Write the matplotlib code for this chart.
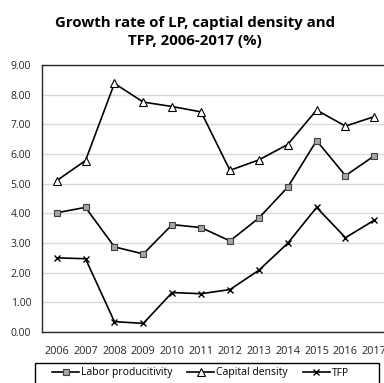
import matplotlib
matplotlib.use("Agg")
import matplotlib.pyplot as plt
from matplotlib.patches import Rectangle

years = ["2006", "2007", "2008", "2009", "2010", "2011", "2012", "2013", "2014", "2015", "2016", "2017"]
labor_productivity = [4.02, 4.20, 2.87, 2.63, 3.62, 3.52, 3.07, 3.84, 4.88, 6.45, 5.27, 5.94]
capital_density = [5.10, 5.78, 8.38, 7.75, 7.60, 7.42, 5.45, 5.80, 6.32, 7.48, 6.94, 7.26]
tfp = [2.50, 2.47, 0.35, 0.29, 1.33, 1.29, 1.43, 2.08, 2.99, 4.20, 3.18, 3.77]
yticks = [0, 1, 2, 3, 4, 5, 6, 7, 8, 9]

plt.rcParams['font.family'] = ['Open Sans', 'DejaVu Sans']

W, H = 384, 383
fig = plt.figure(figsize=(W / 100, H / 100), dpi=100)
left, right, top, bottom = 42.2, 388.8, 65, 332
ax = fig.add_axes([left / W, 1 - bottom / H, (right - left) / W, (bottom - top) / H])

x = list(range(len(years)))
lw = 1.2
ax.plot(x, labor_productivity, color='black', lw=lw, marker='s', ms=5,
        mfc='#a6a6a6', mec='#404040', mew=0.8, label='Labor producitivity', zorder=3)
ax.plot(x, capital_density, color='black', lw=lw, marker='^', ms=5.5,
        mfc='white', mec='black', mew=0.8, label='Capital density', zorder=3)
ax.plot(x, tfp, color='black', lw=lw, marker='x', ms=5,
        mec='black', mew=1.0, label='TFP', zorder=3)

ax.set_xlim(-0.5, len(years) - 0.5)
ax.set_ylim(0, 9)
ax.set_yticks(yticks)
ax.set_yticklabels([f"{v:.2f}" for v in yticks], fontsize=7.5)
ax.set_xticks(x)
ax.set_xticklabels(years, fontsize=7.8)
ax.tick_params(axis='both', length=0, colors='#262626')
ax.tick_params(axis='y', pad=8)
ax.tick_params(axis='x', pad=10)
ax.grid(axis='y', color='#d9d9d9', lw=1)
ax.set_axisbelow(True)
for s in ax.spines.values():
    s.set_color('#262626')
    s.set_linewidth(1.0)

fig.text(195 / W, 1 - 32 / H, "Growth rate of LP, captial density and\nTFP, 2006-2017 (%)",
         ha='center', va='center', fontsize=10.8, fontweight='bold', linespacing=1.35)

# legend frame
fig.patches.append(Rectangle((35 / W, 1 - 392 / H), (379 - 35) / W, (392 - 362.5) / H,
                             transform=fig.transFigure, fill=False, edgecolor='black',
                             lw=1.0, figure=fig))
leg = fig.legend(loc='center left', bbox_to_anchor=(52 / W, 1 - 373 / H), ncol=3,
                 fontsize=7.5, frameon=False, borderpad=0, borderaxespad=0,
                 handlelength=2.6, handletextpad=0.2, columnspacing=1.4)

fig.savefig("out.png", dpi=100)
